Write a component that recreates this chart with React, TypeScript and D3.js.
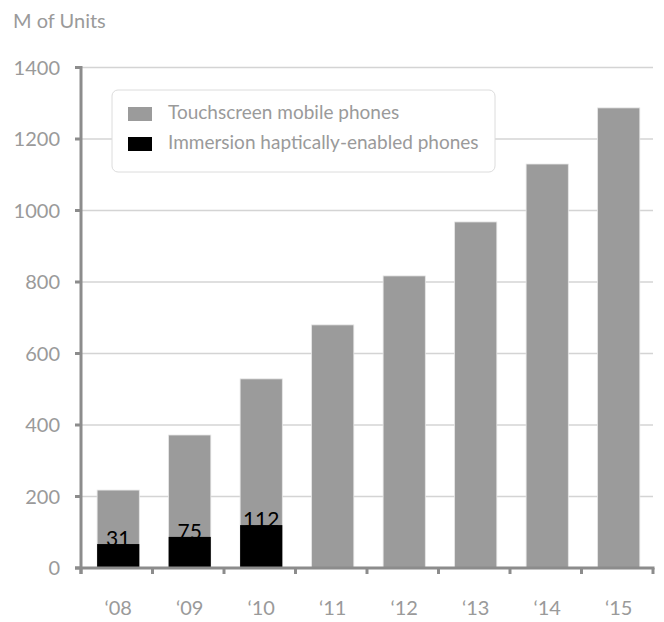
import React from "react";
import * as d3 from "d3";

// Data
const years = ["‘08", "‘09", "‘10", "‘11", "‘12", "‘13", "‘14", "‘15"];
const touchscreen = [218, 372, 529, 680, 817, 968, 1130, 1287];
const immersion = [67, 87, 120];
const immersionLabels = ["31", "75", "112"];
const yTicks = [0, 200, 400, 600, 800, 1000, 1200, 1400];
const legendItems = [
  { label: "Touchscreen mobile phones", color: "#9b9b9b" },
  { label: "Immersion haptically-enabled phones", color: "#000000" },
];

const W = 664;
const H = 622;
const left = 81;
const right = 653;
const top = 67.5;
const bottom = 568;
const axisColor = "#8c8c8c";
const textColor = "#9a9a9a";
const font = "Lato, 'Open Sans', sans-serif";

function App() {
  const x = d3
    .scaleBand()
    .domain(years)
    .range([left, right])
    .paddingInner(0.41)
    .paddingOuter(0.205)
    .align(0.55);
  const y = d3.scaleLinear().domain([0, 1400]).range([bottom, top]);
  const band = (right - left) / years.length;

  return (
    <svg width={W} height={H} style={{ position: "absolute", left: 0, top: 0, background: "#fff" }}>
      <text x={13} y={28} fontFamily={font} fontSize={20} fill={textColor}>
        M of Units
      </text>

      {/* gridlines */}
      {yTicks.slice(1).map((t) => (
        <line key={t} x1={left} x2={right} y1={y(t)} y2={y(t)} stroke="#d4d4d4" strokeWidth={1.5} />
      ))}

      {/* gray bars */}
      {touchscreen.map((v, i) => (
        <rect
          key={years[i]}
          x={x(years[i])}
          y={y(v)}
          width={x.bandwidth()}
          height={bottom - y(v)}
          fill="#9b9b9b"
          stroke="#e6e6e6"
          strokeWidth={0.8}
        />
      ))}

      {/* black bars */}
      {immersion.map((v, i) => (
        <rect
          key={"b" + i}
          x={x(years[i])}
          y={y(v)}
          width={x.bandwidth()}
          height={bottom - y(v)}
          fill="#000"
        />
      ))}

      {immersionLabels.map((l, i) => (
        <text
          key={"l" + i}
          x={(x(years[i]) as number) + x.bandwidth() / 2}
          y={y(immersion[i]) + 2}
          textAnchor="middle"
          fontFamily={font}
          fontSize={21}
          fill="#000"
        >
          {l}
        </text>
      ))}

      {/* axes */}
      <line x1={left} x2={left} y1={top - 1.5} y2={bottom + 6} stroke={axisColor} strokeWidth={3} />
      <line x1={left - 6} x2={right + 1.5} y1={bottom} y2={bottom} stroke={axisColor} strokeWidth={3} />
      {yTicks.map((t) => (
        <g key={"yt" + t}>
          <line x1={left - 6} x2={left} y1={y(t)} y2={y(t)} stroke={axisColor} strokeWidth={3} />
          <text
            x={60}
            y={y(t)}
            dy="0.35em"
            textAnchor="end"
            fontFamily={font}
            fontSize={20}
            fill={textColor}
          >
            {t}
          </text>
        </g>
      ))}
      {d3.range(years.length + 1).map((i) => (
        <line
          key={"xt" + i}
          x1={left + i * band}
          x2={left + i * band}
          y1={bottom}
          y2={bottom + 6}
          stroke={axisColor}
          strokeWidth={3}
        />
      ))}
      {years.map((yr) => (
        <text
          key={"xl" + yr}
          x={(x(yr) as number) + x.bandwidth() / 2}
          y={615}
          textAnchor="middle"
          fontFamily={font}
          fontSize={20}
          fill={textColor}
        >
          {yr}
        </text>
      ))}

      {/* legend */}
      <rect x={112} y={90} width={383} height={82} rx={6} fill="#fff" stroke="#dcdcdc" strokeWidth={1} />
      {legendItems.map((it, i) => (
        <g key={it.label} transform={`translate(128, ${107 + i * 30})`}>
          <rect width={24} height={14} fill={it.color} />
          <text x={40} y={12} fontFamily={font} fontSize={19} fill={textColor}>
            {it.label}
          </text>
        </g>
      ))}
    </svg>
  );
}

export default App;
